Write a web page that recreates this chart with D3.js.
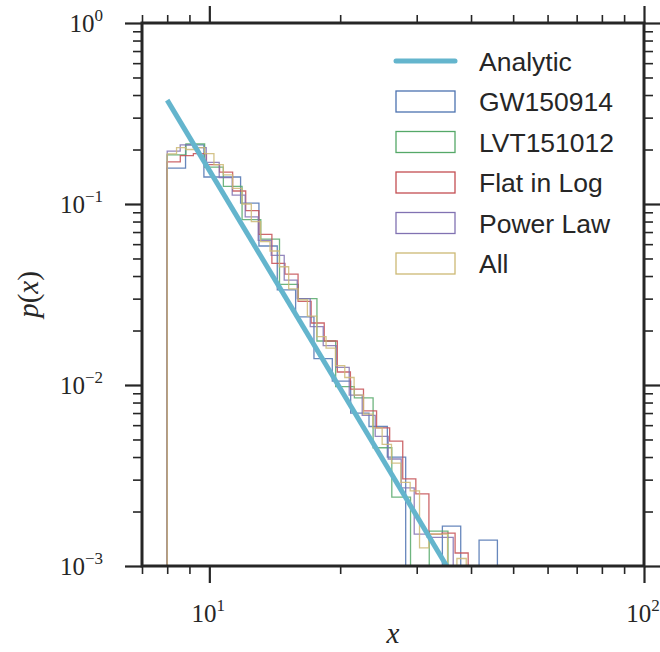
<!DOCTYPE html>
<html>
<head>
  <meta http-equiv="Content-Type" content="text/html;charset=utf-8">
  <title>p(x)</title>
  <script src="https://d3js.org/d3.v7.min.js"></script>
  <style>
    html, body { margin: 0; padding: 0; background: #fff; }
    .hist { fill: none; stroke-width: 1.3px; stroke-opacity: 0.85; }
    .tick-label { font-family: "Liberation Serif", "DejaVu Serif", serif; font-size: 25px; fill: #262626; }
    .legend-text { font-family: "Liberation Sans", "DejaVu Sans", sans-serif; font-size: 26.5px; fill: #262626; }
  </style>
</head>
<body>
<script>
  // values
  var analyticX = [8, 36];
  var analyticY = [0.375, 0.00091];

  // bin ranges [min, max] and bin counts for each histogram
  var gwRange = [8, 46],   gwBins = 18;
  var lvtRange = [8, 35.4], lvtBins = 15;
  var flatRange = [8, 39.4], flatBins = 23;
  var powRange = [8, 36.4], powBins = 22;
  var allRange = [8, 39],  allBins = 32;

  var gwVals = [0.158, 0.212, 0.141, 0.141, 0.101, 0.0586, 0.0335, 0.0238, 0.0140, 0.0105,
                0.0070, 0.0059, 0.0040, 0, 0, 0.00166, 0, 0.00139];
  var lvtVals = [0.187, 0.215, 0.16, 0.125, 0.082, 0.064, 0.036, 0.030, 0.0175, 0.0098,
                 0.0085, 0.0045, 0.0024, 0, 0.00156];
  var flatVals = [0.171, 0.185, 0.19, 0.165, 0.15, 0.118, 0.092, 0.068, 0.047, 0.041,
                  0.029, 0.022, 0.0175, 0.0118, 0.0095, 0.0072, 0.0058, 0.0049, 0.00303, 0.0025,
                  0.0015, 0.00152, 0.00118];
  var powVals = [0.196, 0.212, 0.205, 0.17, 0.14, 0.112, 0.085, 0.063, 0.052, 0.038,
                 0.030, 0.021, 0.0165, 0.0125, 0.0088, 0.0068, 0.0052, 0.0039, 0.0027, 0.0015,
                 0.00144, 0.00144];
  var allVals = [0.189, 0.205, 0.20, 0.205, 0.19, 0.165, 0.145, 0.122, 0.10, 0.08,
                 0.062, 0.055, 0.045, 0.034, 0.0295, 0.024, 0.0185, 0.016, 0.0128, 0.011,
                 0.0088, 0.0069, 0.0058, 0.0047, 0.0037, 0.0029, 0.0026, 0.00126, 0.0015, 0.0015,
                 0, 0.0011];

  var seriesNames = ["GW150914", "LVT151012", "Flat in Log", "Power Law", "All"];
  var seriesColors = ["#4C72B0", "#55A868", "#C44E52", "#8172B2", "#CCB974"];
  var analyticColor = "#64B5CD";

  var xTickVals = [10, 100], xTickExp = ["1", "2"];
  var yTickVals = [1, 0.1, 0.01, 0.001], yTickExp = ["0", "\u22121", "\u22122", "\u22123"];

  var W = 660, H = 652;
  var pL = 142, pR = 644, pT = 23, pB = 566;

  var svg = d3.select("body").append("svg")
    .attr("width", W)
    .attr("height", H);

  var x = d3.scaleLog().domain([7, 100]).range([pL, pR]);
  var y = d3.scaleLog().domain([0.001, 1]).range([pB, pT]);

  svg.append("clipPath").attr("id", "plot")
    .append("rect").attr("x", pL).attr("y", pT)
    .attr("width", pR - pL).attr("height", pB - pT);

  function logEdges(r, n) {
    var a = Math.log10(r[0]), b = Math.log10(r[1]);
    return d3.range(n + 1).map(function (i) { return Math.pow(10, a + (b - a) * i / n); });
  }

  function py(v) { return v > 0 ? y(v) : pB + 40; }

  function stepPath(edges, vals) {
    var pts = [[x(edges[0]), pB + 40]];
    vals.forEach(function (v, i) {
      pts.push([x(edges[i]), py(v)]);
      pts.push([x(edges[i + 1]), py(v)]);
    });
    pts.push([x(edges[edges.length - 1]), pB + 40]);
    return d3.line()(pts);
  }

  var series = [
    [gwRange, gwBins, gwVals],
    [lvtRange, lvtBins, lvtVals],
    [flatRange, flatBins, flatVals],
    [powRange, powBins, powVals],
    [allRange, allBins, allVals]
  ];

  var plot = svg.append("g").attr("clip-path", "url(#plot)");

  series.forEach(function (s, i) {
    plot.append("path")
      .attr("class", "hist")
      .attr("stroke", seriesColors[i])
      .attr("d", stepPath(logEdges(s[0], s[1]), s[2]));
  });

  plot.append("path")
    .attr("fill", "none")
    .attr("stroke", analyticColor)
    .attr("stroke-width", 5)
    .attr("d", d3.line()
      .x(function (d, i) { return x(d); })
      .y(function (d, i) { return y(analyticY[i]); })(analyticX));

  // ticks
  var xMinor = [7, 8, 9, 20, 30, 40, 50, 60, 70, 80, 90];
  var yMinor = [];
  [0.001, 0.01, 0.1].forEach(function (d) {
    for (var k = 2; k < 10; k++) yMinor.push(d * k);
  });

  function drawAxis(axisFn, scale, vals, size, tx, ty) {
    var g = svg.append("g")
      .attr("transform", "translate(" + tx + "," + ty + ")")
      .call(axisFn(scale).tickValues(vals).tickSize(size).tickFormat(""));
    g.select(".domain").remove();
    g.selectAll("line").attr("stroke", "#262626").attr("stroke-width", size > 10 ? 2.2 : 1.6);
    return g;
  }

  drawAxis(d3.axisBottom, x, xTickVals, 17, 0, pB);
  drawAxis(d3.axisBottom, x, xMinor, 8, 0, pB);
  drawAxis(d3.axisTop, x, xTickVals, 17, 0, pT);
  drawAxis(d3.axisTop, x, xMinor, 8, 0, pT);
  drawAxis(d3.axisLeft, y, yTickVals, 17, pL, 0);
  drawAxis(d3.axisLeft, y, yMinor, 9, pL, 0);
  drawAxis(d3.axisRight, y, yTickVals, 17, pR, 0);
  drawAxis(d3.axisRight, y, yMinor, 9, pR, 0);

  // frame
  svg.append("rect")
    .attr("x", pL).attr("y", pT)
    .attr("width", pR - pL).attr("height", pB - pT)
    .attr("fill", "none").attr("stroke", "#262626").attr("stroke-width", 3);

  // tick labels
  xTickVals.forEach(function (v, i) {
    var t = svg.append("text").attr("class", "tick-label")
      .attr("x", x(v) - 1).attr("y", 622).attr("text-anchor", "middle");
    t.append("tspan").text("10");
    t.append("tspan").attr("dy", -11).attr("font-size", 17).text(xTickExp[i]);
  });
  yTickVals.forEach(function (v, i) {
    var t = svg.append("text").attr("class", "tick-label")
      .attr("x", 103).attr("y", y(v) + 9).attr("text-anchor", "end");
    t.append("tspan").text("10");
    t.append("tspan").attr("dy", -11).attr("font-size", 17).text(yTickExp[i]);
  });

  // axis titles
  svg.append("text")
    .attr("x", (pL + pR) / 2).attr("y", 643)
    .attr("text-anchor", "middle")
    .style("font-family", "Liberation Serif, serif").style("font-style", "italic")
    .style("font-size", "29px").attr("fill", "#262626")
    .text("x");

  var yl = svg.append("text")
    .attr("transform", "translate(38," + ((pT + pB) / 2) + ") rotate(-90)")
    .attr("text-anchor", "middle")
    .style("font-family", "Liberation Serif, serif")
    .style("font-size", "29px").attr("fill", "#262626");
  yl.append("tspan").style("font-style", "italic").text("p");
  yl.append("tspan").text("(");
  yl.append("tspan").style("font-style", "italic").text("x");
  yl.append("tspan").text(")");

  // legend
  var legY = [61, 101.5, 142, 182.5, 223, 263.5];
  var leg = svg.append("g");
  leg.append("line")
    .attr("x1", 396).attr("x2", 455).attr("y1", legY[0]).attr("y2", legY[0])
    .attr("stroke", analyticColor).attr("stroke-width", 5).attr("stroke-linecap", "round");
  leg.append("text").attr("class", "legend-text")
    .attr("x", 479).attr("y", legY[0]).attr("dy", "0.36em").text("Analytic");
  seriesNames.forEach(function (name, i) {
    leg.append("rect")
      .attr("x", 396).attr("y", legY[i + 1] - 10.5)
      .attr("width", 59).attr("height", 21)
      .attr("fill", "none").attr("stroke", seriesColors[i]).attr("stroke-width", 1.3);
    leg.append("text").attr("class", "legend-text")
      .attr("x", 479).attr("y", legY[i + 1]).attr("dy", "0.36em").text(name);
  });
</script>
</body>
</html>
